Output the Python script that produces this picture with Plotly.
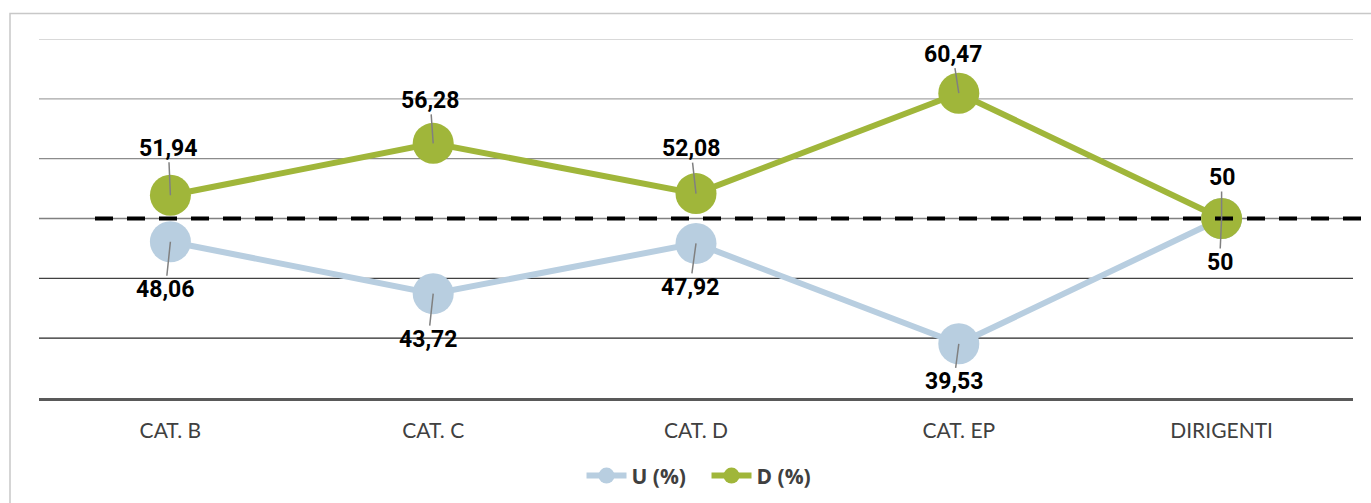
import plotly.graph_objects as go

# ---- data ----
categories = ["CAT. B", "CAT. C", "CAT. D", "CAT. EP", "DIRIGENTI"]
u_values = [48.06, 43.72, 47.92, 39.53, 50]
d_values = [51.94, 56.28, 52.08, 60.47, 50]
u_labels = ["48,06", "43,72", "47,92", "39,53", "50"]
d_labels = ["51,94", "56,28", "52,08", "60,47", "50"]
series_names = ["U (%)", "D (%)"]
reference_value = 50
grid_values = [40, 45, 50, 55, 60, 65]
y_range = [35, 65]

# ---- styles ----
u_color = "#b8cee0"
d_color = "#a0b63a"
grid_colors = ["#262626", "#404040", "#808080", "#8c8c8c", "#a6a6a6", "#cccccc"]
# label offsets (pixels) relative to points
u_off_x = [-5, -5, -6, -5, -2]
u_off_y = [48, 46, 44, 38, 44]
d_off_x = [-2, -3, -5, -6, 0]
d_off_y = [-47, -43, -45, -39, -41]

W, H = 1371, 503
ml, mr, mt, mb = 39, 18, 39, 105

fig = go.Figure()
fig.add_trace(go.Scatter(
    x=categories, y=u_values, name=series_names[0], mode="lines+markers",
    line=dict(color=u_color, width=6),
    marker=dict(color=u_color, size=41), cliponaxis=False,
))
fig.add_trace(go.Scatter(
    x=categories, y=d_values, name=series_names[1], mode="lines+markers",
    line=dict(color=d_color, width=6),
    marker=dict(color=d_color, size=41), cliponaxis=False,
))

shapes = []
for gv, gc in zip(grid_values, grid_colors):
    shapes.append(dict(type="line", xref="paper", yref="y", x0=0, x1=1, y0=gv, y1=gv,
                       line=dict(color=gc, width=1.3), layer="below"))
plot_w = W - ml - mr
plot_h = H - mt - mb
# dashed reference line
shapes.append(dict(type="line", xref="paper", yref="y",
                   x0=(95 - ml) / plot_w, x1=(W + 5 - ml) / plot_w,
                   y0=reference_value, y1=reference_value,
                   line=dict(color="black", width=4, dash="18px,14px"), layer="above"))
# outer frame
shapes.append(dict(type="rect", xref="paper", yref="paper",
                   x0=(10 - ml) / plot_w, x1=(W + 20 - ml) / plot_w,
                   y0=-(H + 20 - (H - mb)) / plot_h, y1=((H - mb) - 13.5) / plot_h,
                   line=dict(color="#c8c8c8", width=1.5), layer="below"))

annotations = []
label_font = dict(family="Roboto", size=23, color="black", weight="bold")
for cats, vals, labs, ox, oy in [
    (categories, u_values, u_labels, u_off_x, u_off_y),
    (categories, d_values, d_labels, d_off_x, d_off_y),
]:
    for c, v, t, dx, dy in zip(cats, vals, labs, ox, oy):
        annotations.append(dict(
            x=c, y=v, xref="x", yref="y", text=t, showarrow=True,
            ax=dx, ay=dy, axref="pixel", ayref="pixel",
            arrowhead=0, arrowwidth=1.5, arrowcolor="#808080", standoff=0,
            font=label_font, borderpad=0,
        ))

fig.update_layout(
    width=W, height=H,
    margin=dict(l=ml, r=mr, t=mt, b=mb, autoexpand=False),
    paper_bgcolor="white", plot_bgcolor="white",
    showlegend=True,
    legend=dict(orientation="h", x=0.508, xanchor="center", y=-0.217, yanchor="middle",
                font=dict(family="Open Sans", size=21, color="#404040", weight="bold"),
                itemwidth=40, entrywidth=70),
    xaxis=dict(type="category", range=[-0.5, 4.5], showgrid=False, zeroline=False,
               showline=True, linecolor="#595959", linewidth=3, ticks="",
               tickfont=dict(family="Lato", size=21, color="#404040"),
               ticklabelstandoff=12, automargin=False),
    yaxis=dict(range=y_range, showgrid=False, zeroline=False, showticklabels=False,
               showline=False, automargin=False),
    shapes=shapes,
    annotations=annotations,
)

fig.write_html("out.html", post_script="document.body.style.margin='0';",
               config={"displayModeBar": False})
